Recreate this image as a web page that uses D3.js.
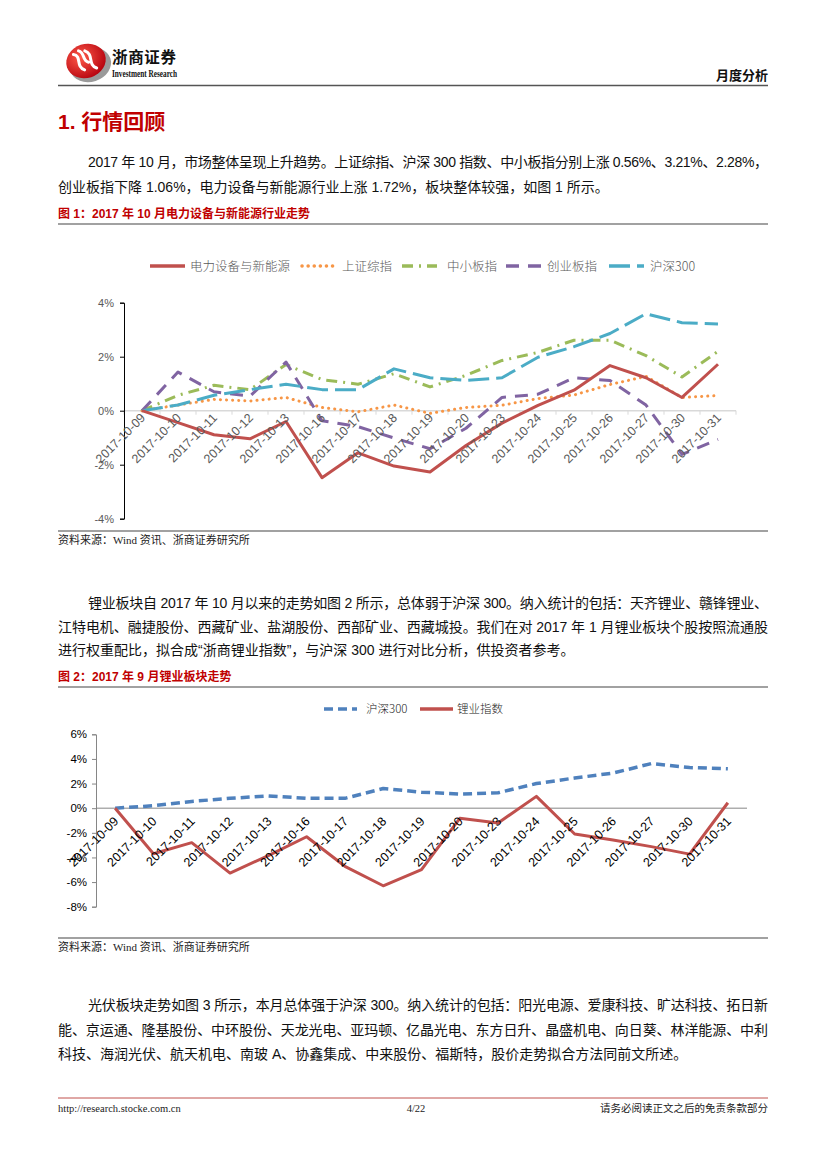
<!DOCTYPE html>
<html>
<head>
<meta charset="utf-8">
<script src="https://cdn.jsdelivr.net/npm/d3@7"></script>
<style>
  body { margin: 0; background: #fff; }
  svg { display: block; }
</style>
</head>
<body>
<svg id="page"></svg>
<script>
// categories shared by both charts
const dates = ['2017-10-09', '2017-10-10', '2017-10-11', '2017-10-12', '2017-10-13', '2017-10-16',
  '2017-10-17', '2017-10-18', '2017-10-19', '2017-10-20', '2017-10-23', '2017-10-24',
  '2017-10-25', '2017-10-26', '2017-10-27', '2017-10-30', '2017-10-31']

// chart 1 series (%)
const power = [0, -0.44, -0.89, -1.04, -0.40, -2.48, -1.56, -2.05, -2.27, -1.29, -0.46, 0.2, 0.76, 1.67, 1.22, 0.49, 1.72]
const shComp = [0, 0.21, 0.42, 0.36, 0.49, 0.12, -0.04, 0.21, -0.10, 0.12, 0.20, 0.45, 0.58, 0.97, 1.27, 0.49, 0.56]
const smeIdx = [0, 0.57, 0.94, 0.78, 1.71, 1.15, 0.98, 1.37, 0.88, 1.31, 1.86, 2.16, 2.61, 2.61, 2.04, 1.25, 2.2]
const chinext = [0, 1.43, 0.70, 0.54, 1.80, -0.37, -0.59, -1.01, -1.41, -0.65, 0.49, 0.61, 1.22, 1.12, 0.21, -1.62, -1.06]
const hs300 = [0, 0.21, 0.57, 0.78, 0.98, 0.78, 0.78, 1.55, 1.22, 1.12, 1.22, 1.98, 2.37, 2.86, 3.59, 3.26, 3.21]

// chart 2 series (%)
const hs300b = [0, 0.2, 0.55, 0.8, 1.0, 0.8, 0.8, 1.6, 1.3, 1.15, 1.25, 2.0, 2.45, 2.85, 3.62, 3.3, 3.2]
const lithium = [0, -3.7, -2.8, -5.27, -3.85, -2.32, -4.72, -6.3, -4.99, -0.82, -1.2, 0.96, -2.1, -2.58, -3.12, -3.73, 0.44]

const ticks1 = [-4, -2, 0, 2, 4]
const ticks2 = [-8, -6, -4, -2, 0, 2, 4, 6]

const CJK = '"Noto Sans CJK SC", sans-serif'
const SANS = '"Liberation Sans", Arial, "Noto Sans CJK SC", sans-serif'
const SERIF = '"Liberation Serif", "Noto Sans CJK SC", serif'
const RED = '#c00000'

const svg = d3.select('#page').attr('width', 827).attr('height', 1169)
svg.append('rect').attr('width', 827).attr('height', 1169).attr('fill', '#fff')

// ---------- header ----------
const defs = svg.append('defs')
const grad = defs.append('radialGradient').attr('id', 'logoGrad').attr('cx', '40%').attr('cy', '35%').attr('r', '70%')
grad.append('stop').attr('offset', '0%').attr('stop-color', '#ff5a4a')
grad.append('stop').attr('offset', '100%').attr('stop-color', '#b3000c')

const logo = svg.append('g').attr('transform', 'translate(86,61) rotate(-18)')
logo.append('ellipse').attr('cx', 3).attr('cy', 5).attr('rx', 21).attr('ry', 17).attr('fill', '#9a9a9a')
logo.append('ellipse').attr('cx', 0).attr('cy', 0).attr('rx', 20).attr('ry', 17).attr('fill', 'url(#logoGrad)')
logo.append('path').attr('d', 'M-10,-10 C-2,-6 -12,2 -4,8 M2,-10 C10,-4 0,4 8,10 M-4,-12 C2,-8 -4,-2 2,2')
  .attr('fill', 'none').attr('stroke', '#fff').attr('stroke-width', 3).attr('stroke-linecap', 'round')

svg.append('text').attr('x', 112).attr('y', 63).attr('font-family', CJK).attr('font-weight', 700)
  .attr('font-size', 15.5).attr('fill', '#111').attr('textLength', 64).text('浙商证券')
svg.append('text').attr('x', 112).attr('y', 77).attr('font-family', '"Liberation Sans Narrow", "Liberation Serif", serif')
  .attr('font-weight', 700).attr('font-size', 11).attr('fill', '#111').attr('textLength', 65)
  .attr('lengthAdjust', 'spacingAndGlyphs').text('Investment Research')
svg.append('text').attr('x', 768).attr('y', 80).attr('text-anchor', 'end').attr('font-family', CJK)
  .attr('font-weight', 700).attr('font-size', 13).attr('fill', '#111').text('月度分析')
svg.append('line').attr('x1', 58).attr('x2', 768).attr('y1', 85.5).attr('y2', 85.5)
  .attr('stroke', '#555').attr('stroke-width', 1.5)

// ---------- text blocks ----------
svg.append('text').attr('x', 58).attr('y', 129).attr('font-family', SANS).attr('font-weight', 700)
  .attr('font-size', 21).attr('fill', RED).text('1. 行情回顾')

function para(lines, y0, step) {
  lines.forEach((ln, i) => {
    const t = svg.append('text').attr('x', ln.x).attr('y', y0 + i * step)
      .attr('font-family', SANS).attr('font-size', 14).attr('fill', '#111').text(ln.s)
    if (ln.full) t.attr('textLength', 768 - ln.x).attr('lengthAdjust', 'spacing')
  })
}

para([
  { x: 88, s: '2017 年 10 月，市场整体呈现上升趋势。上证综指、沪深 300 指数、中小板指分别上涨 0.56%、3.21%、2.28%，', full: true },
  { x: 58, s: '创业板指下降 1.06%，电力设备与新能源行业上涨 1.72%，板块整体较强，如图 1 所示。' }
], 167, 24.5)

function caption(y, s) {
  svg.append('text').attr('x', 58).attr('y', y).attr('font-family', SANS).attr('font-weight', 700)
    .attr('font-size', 12).attr('fill', RED).text(s)
  svg.append('line').attr('x1', 58).attr('x2', 768).attr('y1', y + 6).attr('y2', y + 6)
    .attr('stroke', '#444').attr('stroke-width', 1.2)
}
function source(y) {
  svg.append('line').attr('x1', 58).attr('x2', 768).attr('y1', y - 13).attr('y2', y - 13)
    .attr('stroke', '#444').attr('stroke-width', 1.2)
  svg.append('text').attr('x', 58).attr('y', y).attr('font-family', SERIF)
    .attr('font-size', 11).attr('fill', '#222').text('资料来源：Wind 资讯、浙商证券研究所')
}

caption(218, '图  1：2017 年 10 月电力设备与新能源行业走势')

// ---------- chart 1 ----------
{
  const x = d3.scaleBand().domain(dates).range([124, 736])
  const y = d3.scaleLinear().domain([-4, 4]).range([518.7, 302.7])
  const g = svg.append('g')

  // zero line with band ticks
  g.append('line').attr('x1', 124).attr('x2', 736).attr('y1', y(0)).attr('y2', y(0))
    .attr('stroke', '#d9d9d9').attr('stroke-width', 1.5)
  g.selectAll('.bt').data(dates.concat(['end'])).enter().append('line')
    .attr('x1', (d, i) => 124 + i * x.bandwidth()).attr('x2', (d, i) => 124 + i * x.bandwidth())
    .attr('y1', y(0)).attr('y2', y(0) + 4).attr('stroke', '#d9d9d9').attr('stroke-width', 1)

  const yAxis = g.append('g').attr('transform', 'translate(124,0)')
    .call(d3.axisLeft(y).tickValues(ticks1).tickSize(4).tickPadding(6).tickFormat(d => d + '%'))
  yAxis.select('.domain').attr('stroke', '#000')
  yAxis.selectAll('.tick line').attr('stroke', '#000')
  yAxis.selectAll('text').attr('font-family', SANS).attr('font-size', 11).attr('fill', '#595959')

  const series = [
    { name: '电力设备与新能源', vals: power, color: '#c0504d', dash: null, cap: 'butt' },
    { name: '上证综指', vals: shComp, color: '#f79646', dash: '0.1,6', cap: 'round' },
    { name: '中小板指', vals: smeIdx, color: '#9bbb59', dash: '11,6,2,6', cap: 'butt' },
    { name: '创业板指', vals: chinext, color: '#8064a2', dash: '13,9', cap: 'butt' },
    { name: '沪深300', vals: hs300, color: '#4bacc6', dash: '21,7', cap: 'butt' }
  ]
  const cx = d => x(d) + x.bandwidth() / 2

  // draw order: back to front
  ;[1, 2, 3, 4, 0].forEach(k => {
    const s = series[k]
    const line = d3.line().x((v, i) => cx(dates[i])).y(v => y(v))
    g.append('path').datum(s.vals).attr('d', line).attr('fill', 'none')
      .attr('stroke', s.color).attr('stroke-width', 3)
      .attr('stroke-dasharray', s.dash).attr('stroke-linecap', s.cap).attr('stroke-linejoin', 'round')
  })

  // rotated date labels
  g.selectAll('.xl').data(dates).enter().append('text')
    .attr('transform', d => `translate(${cx(d) + 4},${y(0) + 8}) rotate(-45)`)
    .attr('text-anchor', 'end').attr('font-family', SANS).attr('font-size', 12.5)
    .attr('fill', '#595959').text(d => d)

  // legend
  const legendX = [150, 302, 402, 506, 609]
  const textX = [190, 342, 447, 547, 650]
  series.forEach((s, i) => {
    g.append('line').attr('x1', legendX[i]).attr('x2', legendX[i] + 35).attr('y1', 266).attr('y2', 266)
      .attr('stroke', s.color).attr('stroke-width', 3.5)
      .attr('stroke-dasharray', s.dash).attr('stroke-linecap', s.cap)
    g.append('text').attr('x', textX[i]).attr('y', 270.5).attr('font-family', CJK).attr('font-weight', 300)
      .attr('font-size', 12.5).attr('fill', '#595959').text(s.name)
  })
}

source(544)

para([
  { x: 88, s: '锂业板块自 2017 年 10 月以来的走势如图 2 所示，总体弱于沪深 300。纳入统计的包括：天齐锂业、赣锋锂业、', full: true },
  { x: 58, s: '江特电机、融捷股份、西藏矿业、盐湖股份、西部矿业、西藏城投。我们在对 2017 年 1 月锂业板块个股按照流通股', full: true },
  { x: 58, s: '进行权重配比，拟合成“浙商锂业指数”，与沪深 300 进行对比分析，供投资者参考。' }
], 608, 23.5)

caption(681, '图  2：2017 年 9 月锂业板块走势')

// ---------- chart 2 ----------
{
  const x = d3.scaleBand().domain(dates).range([96, 747])
  const y = d3.scaleLinear().domain([-8, 6]).range([906.7, 734.3])
  const g = svg.append('g')
  const cx = d => x(d) + x.bandwidth() / 2

  const yAxis = g.append('g').attr('transform', 'translate(96,0)')
    .call(d3.axisLeft(y).tickValues(ticks2).tickSize(4).tickPadding(5).tickFormat(d => d + '%'))
  yAxis.select('.domain').attr('stroke', '#868686')
  yAxis.selectAll('.tick line').attr('stroke', '#868686')
  yAxis.selectAll('text').attr('font-family', SANS).attr('font-size', 11.5).attr('fill', '#000')

  g.append('line').attr('x1', 96).attr('x2', 747).attr('y1', y(0)).attr('y2', y(0))
    .attr('stroke', '#868686').attr('stroke-width', 1)

  const line = d3.line().x((v, i) => cx(dates[i])).y(v => y(v))
  g.append('path').datum(hs300b).attr('d', line).attr('fill', 'none').attr('stroke', '#4f81bd')
    .attr('stroke-width', 3.5).attr('stroke-dasharray', '9,5').attr('stroke-linejoin', 'round')
  g.append('path').datum(lithium).attr('d', line).attr('fill', 'none').attr('stroke', '#c0504d')
    .attr('stroke-width', 3).attr('stroke-linejoin', 'round')

  g.selectAll('.xl').data(dates).enter().append('text')
    .attr('transform', d => `translate(${cx(d) + 4},${y(0) + 14}) rotate(-45)`)
    .attr('text-anchor', 'end').attr('font-family', SANS).attr('font-size', 12.5)
    .attr('fill', '#000').text(d => d)

  const leg = [
    { name: '沪深300', color: '#4f81bd', dash: '9,5', lx: 324, tx: 366 },
    { name: '锂业指数', color: '#c0504d', dash: null, lx: 420, tx: 457 }
  ]
  leg.forEach(s => {
    g.append('line').attr('x1', s.lx).attr('x2', s.lx + 33).attr('y1', 709).attr('y2', 709)
      .attr('stroke', s.color).attr('stroke-width', 3.5).attr('stroke-dasharray', s.dash)
    g.append('text').attr('x', s.tx).attr('y', 713).attr('font-family', CJK).attr('font-weight', 300)
      .attr('font-size', 11.5).attr('fill', '#222').text(s.name)
  })
}

source(951)

para([
  { x: 88, s: '光伏板块走势如图 3 所示，本月总体强于沪深 300。纳入统计的包括：阳光电源、爱康科技、旷达科技、拓日新', full: true },
  { x: 58, s: '能、京运通、隆基股份、中环股份、天龙光电、亚玛顿、亿晶光电、东方日升、晶盛机电、向日葵、林洋能源、中利', full: true },
  { x: 58, s: '科技、海润光伏、航天机电、南玻 A、协鑫集成、中来股份、福斯特，股价走势拟合方法同前文所述。' }
], 1010, 24.5)

// ---------- footer ----------
svg.append('line').attr('x1', 58).attr('x2', 768).attr('y1', 1098).attr('y2', 1098)
  .attr('stroke', '#c0504d').attr('stroke-width', 1)
svg.append('text').attr('x', 58).attr('y', 1112).attr('font-family', SERIF).attr('font-size', 10.5)
  .attr('fill', '#222').text('http://research.stocke.com.cn')
svg.append('text').attr('x', 416).attr('y', 1112).attr('text-anchor', 'middle').attr('font-family', SERIF)
  .attr('font-size', 10.5).attr('fill', '#222').text('4/22')
svg.append('text').attr('x', 768).attr('y', 1112).attr('text-anchor', 'end').attr('font-family', SERIF)
  .attr('font-size', 10.5).attr('fill', '#222').text('请务必阅读正文之后的免责条款部分')
</script>
</body>
</html>
